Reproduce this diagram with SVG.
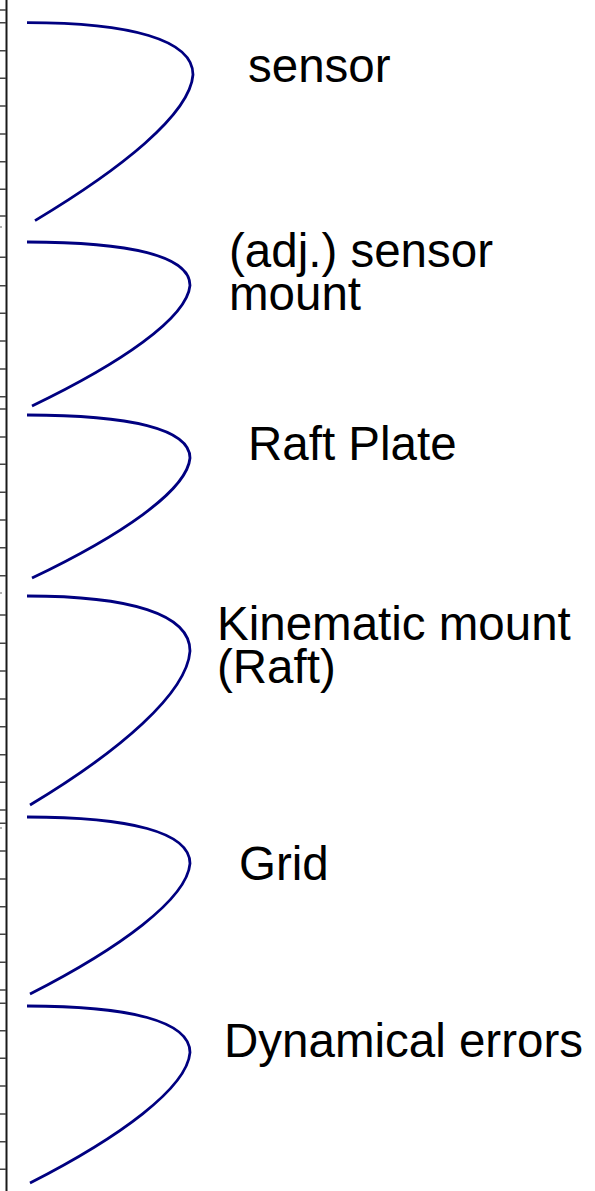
<svg xmlns="http://www.w3.org/2000/svg" width="595" height="1191" viewBox="0 0 595 1191">
<style>
.tick{stroke:#444;stroke-width:1.4}
.tickl{stroke:#999;stroke-width:1.4}
.curve{fill:none;stroke:#000080;stroke-width:2.8}
.lbl{font-family:"Liberation Sans",Arial,sans-serif;font-size:47.5px;fill:#000}
</style>
<rect width="595" height="1191" fill="#fff"/>
<g id="ruler">
<line x1="6.5" y1="0" x2="6.5" y2="1191" stroke="#1a1a1a" stroke-width="2"/>
<path class="tick" d="M0,10H6M0,22.7H6M0,50.7H6M0,78.3H6M0,106H6M0,134H6M0,161.7H6M0,189.3H6M0,216H6M0,257.3H6M0,285.7H6M0,313.3H6M0,341H6M0,369H6M0,396.7H6M0,409H6M0,437H6M0,464.3H6M0,492.3H6M0,520H6M0,547.7H6M0,575.7H6M0,615H6M0,643.3H6M0,671H6M0,699H6M0,726.7H6M0,754.7H6M0,782.3H6M0,810H6M0,823.3H6M0,851H6M0,879H6M0,906.7H6M0,934.3H6M0,962.3H6M0,990H6M0,1003.3H6M0,1030.7H6M0,1058.3H6M0,1086H6M0,1114H6M0,1141.7H6M0,1169.3H6"/>
<path class="tickl" d="M0,227H2M0,593H2M0,828H2"/>
</g>
<g id="connectors">
<path id="c1" class="curve" d="M27,22.6C130,22.6 193,39.6 193,74.7C190,114.7 120,169.5 35,220.6"/>
<path id="c2" class="curve" d="M27,242C130,242 190,256 190,285.4C187,318.3 120,363.7 32,406"/>
<path id="c3" class="curve" d="M27,415C130,415 190,429 190,458C187,490.8 120,536 32,578"/>
<path id="c4" class="curve" d="M27,596C130,596 190,614 190,651C187,693 120,751 30,805"/>
<path id="c5" class="curve" d="M27,817C130,817 190,832.2 190,863.5C187,899 120,948 30,994"/>
<path id="c6" class="curve" d="M27,1006C130,1006 190,1021.2 190,1052.5C187,1088 120,1137 30,1183"/>
</g>
<g id="n1"><text class="lbl" x="248" y="82">sensor</text></g>
<g id="n2"><text class="lbl" x="229" y="267">(adj.) sensor</text><text class="lbl" x="229" y="310">mount</text></g>
<g id="n3"><text class="lbl" x="248" y="460">Raft Plate</text></g>
<g id="n4"><text class="lbl" x="217" y="640">Kinematic mount</text><text class="lbl" x="217" y="683">(Raft)</text></g>
<g id="n5"><text class="lbl" x="239" y="880">Grid</text></g>
<g id="n6"><text class="lbl" x="224" y="1057">Dynamical errors</text></g>
</svg>
